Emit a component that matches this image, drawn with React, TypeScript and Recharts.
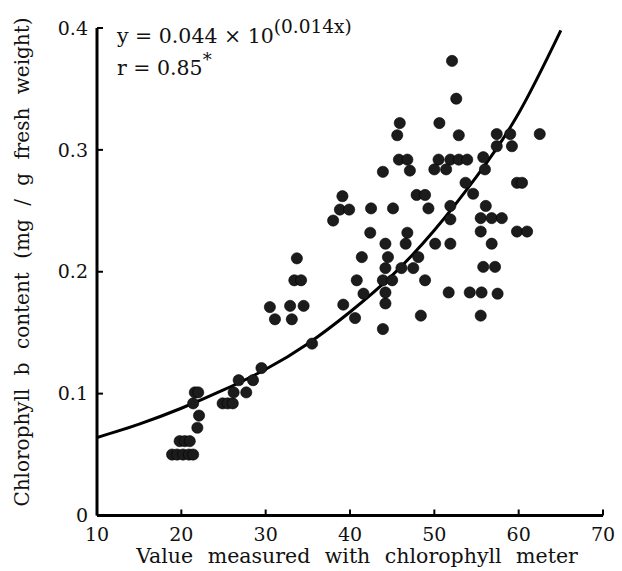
import React from 'react';
import { ComposedChart, Scatter, Line, XAxis, YAxis, Customized } from 'recharts';

const pointX = [
  18.9, 19.5, 20.2, 20.9, 21.4, 19.8, 20.4, 21.0, 21.9, 22.1, 21.4, 21.6, 22.0,
  24.9, 25.5, 26.1, 26.2, 27.7, 26.8, 28.5, 29.5,
  30.5, 31.1, 32.9, 33.1, 34.5, 33.4, 34.2, 33.7, 35.5,
  38.0, 39.1, 38.8, 39.9, 39.2, 40.6, 40.8, 41.6, 41.4, 42.4, 42.5,
  43.9, 44.2, 44.2, 43.9, 45.0, 44.2, 46.1, 47.5, 44.5, 48.1, 44.2, 46.6, 46.8,
  45.1, 43.9, 47.1, 45.8, 46.8, 45.6, 45.9, 47.9, 48.9, 48.9, 48.4, 49.3,
  50.1, 51.9, 50.5, 51.9, 52.9, 53.9, 50.0, 51.4, 50.6, 52.1, 52.6, 52.9,
  51.9, 51.9, 51.7, 53.7, 54.6, 54.2, 55.6, 55.5, 55.5, 56.8, 58.0, 55.5,
  55.8, 57.2, 56.8, 56.1, 55.8, 56.0, 57.5,
  57.4, 59.0, 57.4, 59.2, 62.5, 59.8, 60.4, 59.8, 61.0,
];
const pointY = [
  0.05, 0.05, 0.05, 0.05, 0.05, 0.061, 0.061, 0.061, 0.072, 0.082, 0.092, 0.101, 0.101,
  0.092, 0.092, 0.092, 0.101, 0.101, 0.111, 0.111, 0.121,
  0.171, 0.161, 0.172, 0.161, 0.172, 0.193, 0.193, 0.211, 0.141,
  0.242, 0.262, 0.251, 0.251, 0.173, 0.162, 0.193, 0.182, 0.212, 0.232, 0.252,
  0.153, 0.174, 0.183, 0.193, 0.193, 0.203, 0.203, 0.203, 0.212, 0.212, 0.223, 0.223, 0.232,
  0.252, 0.282, 0.283, 0.292, 0.292, 0.312, 0.322, 0.263, 0.263, 0.193, 0.164, 0.252,
  0.223, 0.223, 0.292, 0.292, 0.292, 0.292, 0.284, 0.284, 0.322, 0.373, 0.342, 0.312,
  0.254, 0.243, 0.183, 0.273, 0.264, 0.183, 0.183, 0.164, 0.244, 0.244, 0.244, 0.233,
  0.204, 0.204, 0.223, 0.254, 0.294, 0.284, 0.182,
  0.313, 0.313, 0.303, 0.303, 0.313, 0.273, 0.273, 0.233, 0.233,
];

const curveX = [10, 15, 20, 25, 30, 35, 40, 45, 50, 55, 60, 65];
const curveY = [0.064, 0.075, 0.088, 0.103, 0.120, 0.141, 0.167, 0.197, 0.234, 0.278, 0.330, 0.398];

const xTicks = [10, 20, 30, 40, 50, 60, 70];
const yTicks = [0, 0.1, 0.2, 0.3, 0.4];

const points = pointX.map((x, i) => ({ x, y: pointY[i] }));
const curve = curveX.map((x, i) => ({ x, y: curveY[i] }));

const FONT = '"DejaVu Serif", serif';

const Dot = (props: any) => {
  const { cx, cy } = props;
  return <circle cx={cx} cy={cy} r={5.6} fill="#1c1c1c" stroke="#000" strokeWidth={0.6} />;
};

const Texts = () => (
  <g fontFamily={FONT} fill="#111">
    <text x={117} y={43} fontSize={20.5}>
      y = 0.044 × 10
      <tspan dy={-10} fontSize={18.5}>(0.014x)</tspan>
    </text>
    <text x={117} y={75} fontSize={20.5}>
      r = 0.85
      <tspan dy={-9} fontSize={18}>*</tspan>
    </text>
    <text x={357} y={563} fontSize={20.5} textAnchor="middle" wordSpacing={8}>
      Value measured with chlorophyll meter
    </text>
    <text
      x={0}
      y={0}
      fontSize={20}
      textAnchor="middle"
      wordSpacing={7}
      transform="translate(29, 262) rotate(-90)"
    >
      Chlorophyll b content (mg / g fresh weight)
    </text>
  </g>
);

export default function App() {
  return (
    <div style={{ position: 'absolute', left: 0, top: 0, background: '#fff' }}>
      <ComposedChart
        width={622}
        height={571}
        margin={{ top: 28, right: 19, bottom: 5, left: 0 }}
        style={{ fontFamily: FONT }}
      >
        <XAxis
          type="number"
          dataKey="x"
          domain={[10, 70]}
          ticks={xTicks}
          allowDataOverflow
          height={50.5}
          axisLine={{ stroke: '#000', strokeWidth: 3 }}
          tickLine={{ stroke: '#000', strokeWidth: 2 }}
          tickSize={-6}
          tickMargin={12}
          tick={{ fill: '#111', fontSize: 19, fontFamily: FONT, dy: 6 }}
        />
        <YAxis
          type="number"
          dataKey="y"
          domain={[0, 0.4]}
          ticks={yTicks}
          allowDataOverflow
          width={97}
          axisLine={{ stroke: '#000', strokeWidth: 3 }}
          tickLine={{ stroke: '#000', strokeWidth: 2 }}
          tickSize={-6}
          tickMargin={15}
          tick={{ fill: '#111', fontSize: 19, fontFamily: FONT }}
        />
        <Scatter data={points} dataKey="y" shape={Dot} isAnimationActive={false} />
        <Line
          data={curve}
          dataKey="y"
          type="natural"
          stroke="#000"
          strokeWidth={3}
          dot={false}
          activeDot={false}
          isAnimationActive={false}
        />
        <Customized component={Texts} />
      </ComposedChart>
    </div>
  );
}
